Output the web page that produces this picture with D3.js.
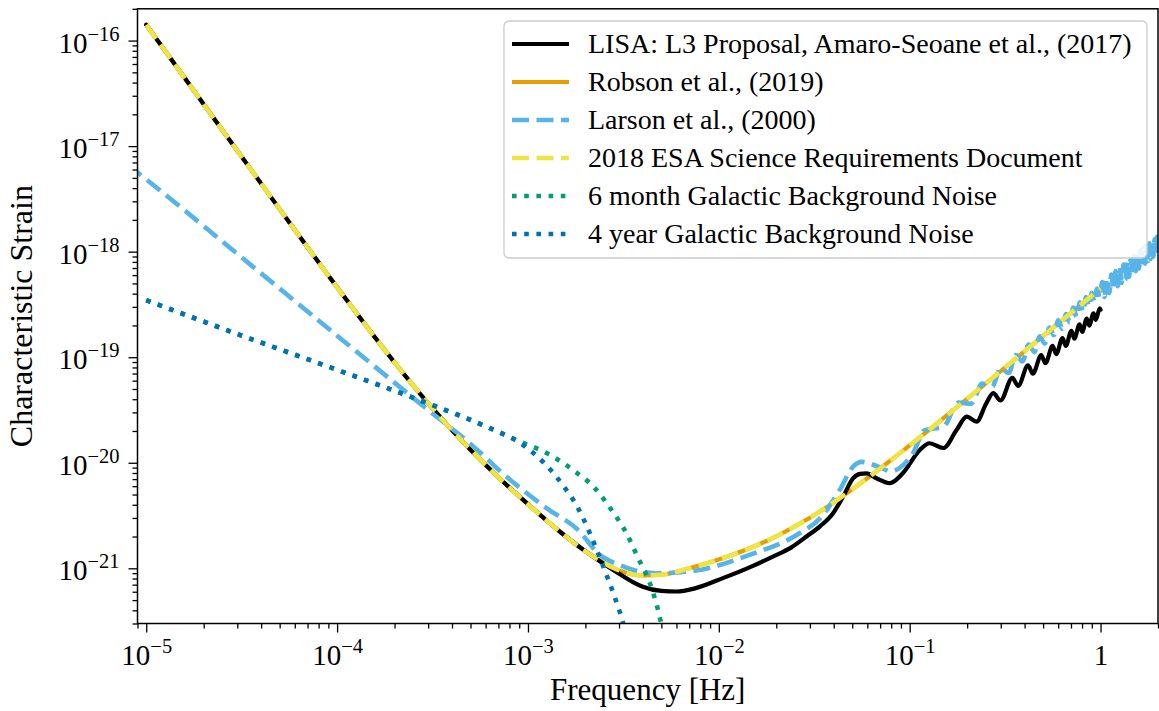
<!DOCTYPE html>
<html><head><meta charset="utf-8">
<script src="https://cdn.jsdelivr.net/npm/d3@7"></script>
<style>
body{margin:0;background:#fff}
text{font-family:"Liberation Serif","Times New Roman",serif;fill:#000}
</style>
</head><body>
<svg id="chart" width="1159" height="711"></svg>
<script>
// ---------------- data ----------------
const seriesNames = [
  "LISA: L3 Proposal, Amaro-Seoane et al., (2017)",
  "Robson et al., (2019)",
  "Larson et al., (2000)",
  "2018 ESA Science Requirements Document",
  "6 month Galactic Background Noise",
  "4 year Galactic Background Noise"
];
const seriesColors = ["#000000","#E69F00","#56B4E9","#F0E442","#009E73","#0072B2"];

const lisaF = [1e-5,2e-5,5e-5,1e-4,2e-4,3e-4,5e-4,7e-4,1e-3,1.5e-3,2e-3,2.5e-3,3e-3,3.55e-3,4e-3,5e-3,6e-3,7.5e-3,
  1.05e-2,1.5e-2,1.92e-2,2.4e-2,2.88e-2,3.4e-2,3.97e-2,4.48e-2,5.05e-2,5.5e-2,5.94e-2,6.7e-2,7.87e-2,9.2e-2,
  0.113,0.127,0.15,0.176,0.199,0.224,0.252,0.274,0.299,0.345,0.37,0.417,0.442,0.489,0.514,0.561,0.586,
  0.632,0.657,0.704,0.729,0.776,0.801,0.847,0.872,0.919,0.944,0.991,1.0];
const lisaH = [1.41e-16,2.49e-17,2.53e-18,4.60e-19,8.91e-20,3.66e-20,1.33e-20,7.29e-21,4.05e-21,2.16e-21,1.45e-21,1.10e-21,8.91e-22,7.41e-22,6.68e-22,6.10e-22,6.03e-22,6.46e-22,
  8.07e-22,1.05e-21,1.29e-21,1.58e-21,2.00e-21,2.51e-21,3.33e-21,4.79e-21,7.13e-21,7.85e-21,7.94e-21,7.13e-21,6.40e-21,7.94e-21,
  1.32e-20,1.53e-20,1.38e-20,2.04e-20,2.74e-20,2.45e-20,3.66e-20,4.57e-20,3.89e-20,6.37e-20,5.35e-20,8.38e-20,6.98e-20,1.05e-19,8.77e-20,1.28e-19,1.07e-19,
  1.52e-19,1.28e-19,1.78e-19,1.50e-19,2.05e-19,1.74e-19,2.32e-19,1.99e-19,2.61e-19,2.26e-19,2.91e-19,2.82e-19];

const robsonF = [1e-5,2e-5,5e-5,1e-4,2e-4,3e-4,5e-4,7e-4,1e-3,1.5e-3,2e-3,3e-3,4e-3,5e-3,7e-3,1e-2,2e-2,3e-2,5e-2,7e-2,0.1,0.2,0.3,0.5,1.0];
const robsonH = [1.41e-16,2.49e-17,2.53e-18,4.60e-19,8.91e-20,3.66e-20,1.33e-20,7.29e-21,4.05e-21,2.16e-21,1.45e-21,9.55e-22,8.55e-22,8.69e-22,1.00e-21,1.21e-21,2.01e-21,3.01e-21,5.60e-21,8.82e-21,1.46e-20,4.04e-20,7.39e-20,1.59e-19,4.47e-19];

const esaF = [1e-5,2e-5,5e-5,1e-4,2e-4,3e-4,5e-4,7e-4,1e-3,1.5e-3,2e-3,3e-3,4e-3,5e-3,7e-3,1e-2,2e-2,3e-2,5e-2,7e-2,0.1,0.2,0.3,0.5,1.0];
const esaH = [1.41e-16,2.49e-17,2.53e-18,4.60e-19,8.91e-20,3.66e-20,1.33e-20,7.29e-21,4.05e-21,2.16e-21,1.45e-21,9.55e-22,8.55e-22,8.69e-22,1.00e-21,1.21e-21,2.01e-21,3.01e-21,5.60e-21,8.82e-21,1.46e-20,4.04e-20,7.39e-20,1.59e-19,4.47e-19];

const larsonF = [8e-6,1e-5,3e-5,1e-4,3e-4,5e-4,7.7e-4,1.25e-3,1.83e-3,2.38e-3,3.0e-3,3.83e-3,4.7e-3,7e-3,1.45e-2,2.65e-2,3.4e-2,4.3e-2,5.05e-2,5.6e-2,6.7e-2,8.0e-2,9.0e-2,0.104,
  0.12,0.15,0.18,0.21,0.24,0.27,0.30,0.33,0.36,0.39,0.42,0.45,0.48,0.51,0.54,0.57,0.60,0.63,0.66,0.69,0.72,0.75,0.78,0.81,0.84,0.87,0.90,0.93,0.96,0.99,
  1.02,1.05,1.08,1.11,1.14,1.17,1.20,1.23,1.26,1.29,1.32,1.35,1.38,1.41,1.44,1.47,1.50,1.53,1.56,1.59,1.62,1.65,1.68,1.71,1.74,1.77,1.80,1.83,1.86,1.89,1.92,1.95,1.98,2.01];
const larsonH = [6.64e-18,4.84e-18,9.53e-19,1.60e-19,3.16e-20,1.51e-20,7.41e-21,3.72e-21,2.31e-21,1.34e-21,1.08e-21,9.33e-22,8.99e-22,9.33e-22,1.34e-21,2.15e-21,2.99e-21,5.53e-21,9.18e-21,1.02e-20,9.33e-21,8.32e-21,9.12e-21,1.23e-20,
  2.04e-20,2.19e-20,3.72e-20,3.63e-20,5.62e-20,5.25e-20,7.94e-20,7.08e-20,1.05e-19,9.12e-20,1.32e-19,1.12e-19,1.58e-19,1.35e-19,1.91e-19,1.62e-19,2.24e-19,1.86e-19,2.57e-19,2.14e-19,2.95e-19,2.40e-19,3.31e-19,2.69e-19,3.72e-19,3.02e-19,4.07e-19,3.31e-19,4.47e-19,3.63e-19,
  5.15e-19,3.72e-19,5.61e-19,4.05e-19,6.08e-19,4.38e-19,6.56e-19,4.71e-19,7.06e-19,5.06e-19,7.57e-19,5.42e-19,8.09e-19,5.78e-19,8.61e-19,6.15e-19,9.16e-19,6.53e-19,9.70e-19,6.92e-19,1.03e-18,7.31e-19,1.08e-18,7.71e-19,1.14e-18,8.11e-19,1.20e-18,8.53e-19,1.26e-18,8.95e-19,1.32e-18,9.38e-19,1.39e-18,9.77e-19];

const gal6mF = [1e-5,3e-5,1e-4,3.16e-4,6.05e-4,8.3e-4,1.3e-3,1.72e-3,2.24e-3,2.74e-3,3.28e-3,3.78e-3,4.35e-3,4.8e-3,5.1e-3,5.5e-3];
const gal6mH = [3.47e-19,1.66e-19,7.59e-20,3.52e-20,2.20e-20,1.70e-20,1.19e-20,8.55e-21,5.75e-21,3.57e-21,2.15e-21,1.25e-21,7.24e-22,4.05e-22,2.51e-22,1.26e-22];

const gal4yF = [1e-5,3e-5,1e-4,3.16e-4,6.05e-4,9.4e-4,1.22e-3,1.52e-3,1.83e-3,2.11e-3,2.52e-3,2.84e-3,3.15e-3,3.5e-3];
const gal4yH = [3.47e-19,1.66e-19,7.59e-20,3.52e-20,2.20e-20,1.48e-20,9.89e-21,6.17e-21,3.72e-21,2.15e-21,9.68e-22,5.41e-22,3.02e-22,1.26e-22];

const xTickExps = [-5,-4,-3,-2,-1,0];
const xTickLabels = ["10|−5","10|−4","10|−3","10|−2","10|−1","1|"];
const yTickExps = [-21,-20,-19,-18,-17,-16];
const yTickLabels = ["10|−21","10|−20","10|−19","10|−18","10|−17","10|−16"];
const xTitle = "Frequency [Hz]";
const yTitle = "Characteristic Strain";

// ---------------- layout ----------------
const FONT = "'Liberation Serif','Times New Roman',serif";
const svg = d3.select("#chart");
const L = 137.5, R = 1158, T = 8.8, B = 623.5;
const x = d3.scaleLog().domain([9e-6, 2]).range([L, R]);
const y = d3.scaleLog().domain([3e-22, 2e-16]).range([B, T]);

svg.append("defs").append("clipPath").attr("id","plotclip")
  .append("rect").attr("x",L).attr("y",T).attr("width",R-L).attr("height",B-T);

const line = d3.line().x(d=>x(d[0])).y(d=>y(d[1])).curve(d3.curveMonotoneX);
const zip = (a,b)=>a.map((v,i)=>[v,b[i]]);

const styles = [
  {w:4.2, dash:null},
  {w:4.2, dash:null},
  {w:4.6, dash:"17,7.5"},
  {w:4.6, dash:"17,7.5"},
  {w:4.6, dash:"4.6,7.6"},
  {w:4.6, dash:"4.6,7.6"}
];
const data = [zip(lisaF,lisaH), zip(robsonF,robsonH), zip(larsonF,larsonH), zip(esaF,esaH), zip(gal6mF,gal6mH), zip(gal4yF,gal4yH)];
const drawOrder = [1,0,2,3,4,5];

const plot = svg.append("g").attr("clip-path","url(#plotclip)");
drawOrder.forEach(i=>{
  plot.append("path").datum(data[i])
    .attr("d", line)
    .attr("fill","none")
    .attr("stroke", seriesColors[i])
    .attr("stroke-width", styles[i].w)
    .attr("stroke-dasharray", styles[i].dash)
    .attr("stroke-linejoin","round")
    .attr("stroke-linecap", styles[i].dash ? "butt" : "round");
});

// ---------------- axes ----------------
function minorTicks(scale){
  const [a,b] = scale.domain();
  const out = [];
  for(let e=Math.floor(Math.log10(a)); e<=Math.ceil(Math.log10(b)); e++){
    for(let k=2;k<=9;k++){ const v=k*Math.pow(10,e); if(v>=a*0.999 && v<=b*1.001) out.push(v); }
  }
  return out;
}
const xMaj = xTickExps.map(e=>Math.pow(10,e));
const yMaj = yTickExps.map(e=>Math.pow(10,e));

function styleAxis(g){
  g.select(".domain").remove();
  g.selectAll(".tick line").attr("stroke","#000").attr("stroke-width",1.3);
}
svg.append("g").attr("transform",`translate(0,${B})`)
  .call(d3.axisBottom(x).tickValues(minorTicks(x)).tickSize(5).tickFormat(()=>""))
  .call(styleAxis);
const gx = svg.append("g").attr("transform",`translate(0,${B})`)
  .call(d3.axisBottom(x).tickValues(xMaj).tickSize(9).tickFormat(()=>""))
  .call(styleAxis);
gx.selectAll(".tick text").each(function(d,i){
  const t = d3.select(this).attr("y",41.5).attr("dy",null)
    .attr("font-family",FONT).attr("font-size",29).attr("text-anchor","middle");
  const parts = xTickLabels[i].split("|");
  t.append("tspan").text(parts[0]);
  if(parts[1]) t.append("tspan").attr("dy",-12).attr("font-size",20.5).text(parts[1]);
});

svg.append("g").attr("transform",`translate(${L},0)`)
  .call(d3.axisLeft(y).tickValues(minorTicks(y)).tickSize(5).tickFormat(()=>""))
  .call(styleAxis);
const gy = svg.append("g").attr("transform",`translate(${L},0)`)
  .call(d3.axisLeft(y).tickValues(yMaj).tickSize(9).tickFormat(()=>""))
  .call(styleAxis);
gy.selectAll(".tick text").each(function(d,i){
  const t = d3.select(this).attr("x",-18).attr("y",11.5).attr("dy",null)
    .attr("font-family",FONT).attr("font-size",29).attr("text-anchor","end");
  const parts = yTickLabels[i].split("|");
  t.append("tspan").text(parts[0]);
  if(parts[1]) t.append("tspan").attr("dy",-12).attr("font-size",20.5).text(parts[1]);
});

// frame
svg.append("rect").attr("x",L).attr("y",T).attr("width",R-L).attr("height",B-T)
  .attr("fill","none").attr("stroke","#000").attr("stroke-width",1.5);

// titles
svg.append("text").attr("x",(L+R)/2).attr("y",700).attr("text-anchor","middle")
  .attr("font-family",FONT).attr("font-size",31).text(xTitle);
svg.append("text").attr("transform",`translate(32,${(T+B)/2}) rotate(-90)`)
  .attr("text-anchor","middle").attr("font-family",FONT).attr("font-size",32).text(yTitle);

// ---------------- legend ----------------
const lg = svg.append("g");
lg.append("rect").attr("x",504).attr("y",21).attr("width",643).attr("height",237)
  .attr("rx",5).attr("fill","#fff").attr("fill-opacity",0.85)
  .attr("stroke","#cccccc").attr("stroke-width",1.3);
seriesNames.forEach((name,i)=>{
  const yy = 44 + i*38;
  lg.append("line").attr("x1",512).attr("x2",569).attr("y1",yy).attr("y2",yy)
    .attr("stroke",seriesColors[i]).attr("stroke-width",styles[i].w)
    .attr("stroke-dasharray",styles[i].dash);
  lg.append("text").attr("x",588).attr("y",yy+9).attr("font-family",FONT)
    .attr("font-size",28).text(name);
});
</script>
</body></html>
